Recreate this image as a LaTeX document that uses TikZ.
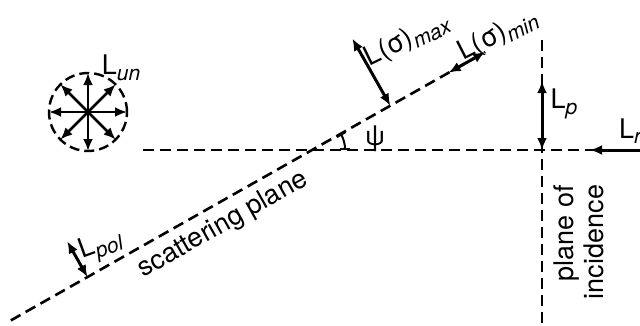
\documentclass[tikz,border=0pt]{standalone}
\usepackage{fontspec}
\setmainfont{TeX Gyre Heros}
\usetikzlibrary{arrows.meta, calc}
\newcommand{\lowsub}[1]{\raisebox{-0.2em}{\fontsize{21}{21}\selectfont\itshape #1}}

\begin{document}
\begin{tikzpicture}[x=1pt, y=1pt, >={Latex[length=12pt,width=10pt]},
  every node/.style={font=\fontsize{27}{30}\selectfont, inner sep=0pt},
  plane/.style={line width=2.6pt, dash pattern=on 11pt off 6pt},
  vec/.style={<->, line width=3pt}]
\useasboundingbox (0,0) rectangle (640,-325);
% planes
\coordinate (O) at (312,-150);
\coordinate (hA) at (143,-150);
\coordinate (hB) at (660,-150);
\coordinate (vA) at (542,-40);
\coordinate (vB) at (542,-340);
\coordinate (P) at (542,-150);
\coordinate (sA) at ($(O)+(209.5:346)$);
\coordinate (sB) at ($(O)+(29.5:199)$);
\draw[plane] (hA) -- (hB);
\draw[plane] (vA) -- (vB);
\draw[plane] (sA) -- (sB);

% unpolarized light
\coordinate (C) at (88,-112);
\draw[line width=2.4pt, dash pattern=on 10pt off 5pt] (C) circle[radius=39];
\foreach \a in {0,45,...,315}
  \draw[->, line width=2.6pt] (C) -- ++(\a:39);
\node (lun) at (121,-68) {L\lowsub{un}};

% polarization vectors
\coordinate (maxfoot) at ($(O)+(29.5:90)$);
\coordinate (maxtip) at ($(maxfoot)+(119.5:77)$);
\coordinate (minfoot) at ($(O)+(29.5:157)$);
\coordinate (polfoot) at ($(O)+(209.5:258)$);
\coordinate (poltip) at ($(polfoot)+(119.5:41)$);
\coordinate (ptip) at (542,-81);
\coordinate (rA) at (590,-150);
\coordinate (rB) at (652,-150);
\draw[vec] (maxfoot) -- (maxtip);
\draw[vec] (minfoot) -- (sB);
\draw[vec] (polfoot) -- (poltip);
\draw[vec] (P) -- (ptip);
\draw[vec] (rA) -- (rB);

\node (lmax) [rotate=26] at (407,-40) {L(σ)\lowsub{max}};
\node (lmin) [rotate=27] at (498,-35) {L(σ)\lowsub{min}};
\node (lp) at (564,-104) {L\lowsub{p}};
\node (lr) [anchor=west] at (619,-131) {L\lowsub{r}};
\node (lpol) [rotate=20] at (101,-247) {L\lowsub{pol}};

% angle psi
\draw[{Bar[width=10pt]}-{Bar[width=10pt]}, line width=2pt] ($(O)+(0:33)$) arc[start angle=0, end angle=29.5, radius=33];
\node (psi) at (375,-139) {ψ};

\node (scat) [rotate=29.5] at (223,-225) {scattering plane};
\node (inc) [rotate=90, align=right] at (579,-242) {plane of\\incidence};
\end{tikzpicture}
\end{document}
